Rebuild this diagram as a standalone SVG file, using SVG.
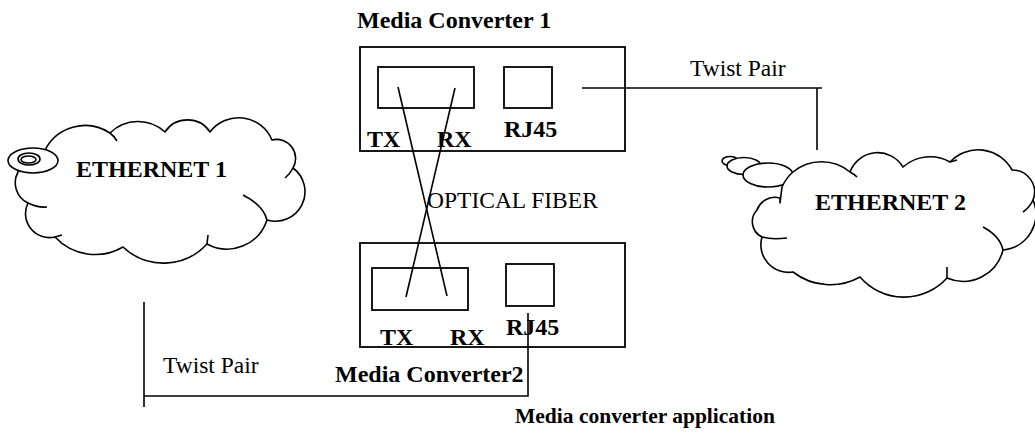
<svg xmlns="http://www.w3.org/2000/svg" width="1035" height="434" viewBox="0 0 1035 434">
<style>
.ln{fill:none;stroke:#000;stroke-width:1.6}
.bx{fill:none;stroke:#000;stroke-width:1.8}
.cl{fill:#fff;stroke:#000;stroke-width:1.6;stroke-linejoin:round}
.b{font-family:"Liberation Serif","Times New Roman",serif;font-weight:bold;font-size:24px;fill:#000}
.r{font-family:"Liberation Serif","Times New Roman",serif;font-size:23.5px;fill:#000}
</style>
<rect width="1035" height="434" fill="#fff"/>
<g id="ethernet1">
<path class="cl" d="M45,150 A45,45 0 0 1 110,133 A40,40 0 0 1 165,132 A27,27 0 0 1 210,132 A36,36 0 0 1 272,140 A19,19 0 0 1 293,168 A29.5,29.5 0 0 1 267,220 A42,42 0 0 1 207,244 A59,59 0 0 1 123,247 A55,55 0 0 1 55,237 A24,24 0 0 1 28,203 A22.5,22.5 0 0 1 18,172 A23,23 0 0 1 45,150 Z"/>
<path class="ln" d="M110,133 Q114,136 117,141 M293,168 Q290,174 285,178 M243,195 Q263,205 267,220 M208,235 L207,244 M55,237 L62,235 M28,203 Q38,208 47,207"/>
<ellipse class="cl" cx="33" cy="160.5" rx="25" ry="12.5"/>
<ellipse class="cl" cx="29" cy="159" rx="11" ry="6"/>
<ellipse class="cl" cx="28.5" cy="159.5" rx="7.5" ry="3.5"/>
<text class="b" x="76" y="177">ETHERNET 1</text>
</g>
<g id="ethernet2">
<ellipse class="cl" cx="730" cy="161" rx="8" ry="4.5"/>
<ellipse class="cl" cx="744" cy="166" rx="17" ry="8.5"/>
<ellipse class="cl" cx="768" cy="175" rx="25" ry="12"/>
<path class="cl" d="M780,203 L782,187 Q786,178 793,172 A45,45 0 0 1 850,172 A29.5,29.5 0 0 1 903,167 A41,41 0 0 1 950,162 A38.5,38.5 0 0 1 1012,170 A22,22 0 0 1 1033,200 A36,36 0 0 1 1003,250 A41,41 0 0 1 947,278 A58,58 0 0 1 860,277 A61,61 0 0 1 793,272 A27.6,27.6 0 0 1 762,237 A17,17 0 0 1 757,210 A19,19 0 0 1 780,198 Z"/>
<path class="ln" d="M850,172 Q854,174 857,177 M1033,200 Q1030,207 1023,212 M983,227 Q1000,236 1003,250 M947,267 L947,278 M762,237 Q772,240 787,238 M950,162 L957,160"/>
<text class="b" x="815" y="210">ETHERNET 2</text>
</g>
<g id="mc1">
<rect class="bx" x="360" y="47" width="265" height="104"/>
<rect class="bx" x="378" y="67" width="96" height="41"/>
<rect class="bx" x="504" y="67" width="48" height="41"/>
<text class="b" x="357" y="28">Media Converter 1</text>
<text class="b" x="367" y="147">TX</text>
<text class="b" x="437" y="147">RX</text>
<text class="b" x="504" y="137">RJ45</text>
</g>
<g id="mc2">
<rect class="bx" x="360" y="243" width="265" height="104"/>
<rect class="bx" x="372" y="268" width="96" height="42"/>
<rect class="bx" x="506" y="264" width="48" height="42"/>
<text class="b" x="380" y="345">TX</text>
<text class="b" x="450" y="345">RX</text>
<text class="b" x="506" y="335">RJ45</text>
<text class="b" x="335" y="382">Media Converter2</text>
</g>
<g id="connectors">
<line class="ln" x1="398" y1="87" x2="447" y2="296"/>
<line class="ln" x1="455" y1="88" x2="406" y2="297"/>
<polyline class="ln" points="582,88 822,88"/>
<polyline class="ln" points="817,88 817,150"/>
<polyline class="ln" points="528,313 528,396 144,396"/>
<polyline class="ln" points="144,302 144,407"/>
</g>
<g id="labels">
<text class="r" x="427" y="208">OPTICAL FIBER</text>
<text class="r" x="690" y="76">Twist Pair</text>
<text class="r" x="163" y="373">Twist Pair</text>
<text class="b" x="515" y="423" style="font-size:21.5px">Media converter application</text>
</g>
</svg>
